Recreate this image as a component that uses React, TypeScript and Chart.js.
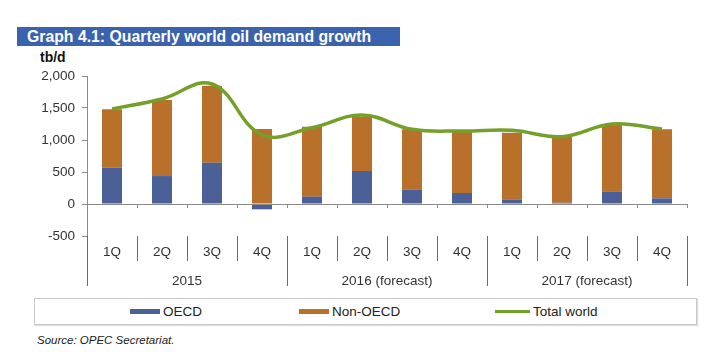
import React, { useEffect, useRef } from "react";
import { Chart, registerables } from "chart.js";

Chart.register(...registerables);

const quarters = ["1Q", "2Q", "3Q", "4Q", "1Q", "2Q", "3Q", "4Q", "1Q", "2Q", "3Q", "4Q"];
const years = ["2015", "2016 (forecast)", "2017 (forecast)"];
const oecd = [567, 437, 645, -83, 115, 516, 229, 172, 73, 20, 193, 89];
const nonOecd = [913, 1188, 1204, 1172, 1093, 849, 938, 958, 1042, 1032, 1041, 1078];
const totalWorld = [1484, 1640, 1875, 1080, 1190, 1390, 1167, 1141, 1151, 1052, 1250, 1172];
const yTicks = [-500, 0, 500, 1000, 1500, 2000];

const BLUE = "#4a6096";
const ORANGE = "#b8702a";
const GREEN = "#74a02a";
const FONT = "'Liberation Sans', Arial, sans-serif";

const decorPlugin = {
  id: "decor",
  afterDraw(chart: any) {
    const { ctx, chartArea } = chart;
    const x = chart.scales.x;
    const y = chart.scales.y;
    const zeroY = y.getPixelForValue(0);
    const n = quarters.length;
    const bounds: number[] = [];
    for (let i = 0; i <= n; i++) {
      if (i === 0) bounds.push(chartArea.left);
      else if (i === n) bounds.push(chartArea.right);
      else bounds.push((x.getPixelForValue(i - 1) + x.getPixelForValue(i)) / 2);
    }
    ctx.save();
    ctx.strokeStyle = "#8a8a8a";
    ctx.lineWidth = 1;
    ctx.beginPath();
    ctx.moveTo(chartArea.left, Math.round(zeroY) + 0.5);
    ctx.lineTo(chartArea.right, Math.round(zeroY) + 0.5);
    ctx.stroke();
    bounds.forEach((b) => {
      const bx = Math.round(b) + 0.5;
      ctx.beginPath();
      ctx.moveTo(bx, Math.round(zeroY));
      ctx.lineTo(bx, Math.round(zeroY) + 4);
      ctx.stroke();
    });
    ctx.strokeStyle = "#6a6a6a";
    const bottom = chartArea.bottom;
    bounds.forEach((b, i) => {
      const bx = Math.round(b) + 0.5;
      const isYear = i % 4 === 0;
      ctx.beginPath();
      ctx.moveTo(bx, bottom);
      ctx.lineTo(bx, bottom + (isYear ? 50 : 25));
      ctx.stroke();
    });
    ctx.restore();
  },
};

export default function App() {
  const ref = useRef<HTMLCanvasElement>(null);
  useEffect(() => {
    if (!ref.current) return;
    const chart = new Chart(ref.current, {
      type: "bar",
      data: {
        labels: quarters,
        datasets: [
          {
            type: "line",
            label: "Total world",
            data: totalWorld,
            borderColor: GREEN,
            backgroundColor: GREEN,
            borderWidth: 3.5,
            tension: 0.4,
            pointRadius: 0,
            stack: "line",
            order: 0,
          } as any,
          {
            label: "OECD",
            data: oecd,
            backgroundColor: BLUE,
            stack: "bars",
            order: 1,
            categoryPercentage: 1,
            barPercentage: 0.4,
          },
          {
            label: "Non-OECD",
            data: nonOecd,
            backgroundColor: ORANGE,
            stack: "bars",
            order: 1,
            categoryPercentage: 1,
            barPercentage: 0.4,
          },
        ],
      },
      options: {
        animation: false,
        responsive: false,
        maintainAspectRatio: false,
        layout: { padding: { top: 16, right: 23, left: 0, bottom: 8 } },
        plugins: { legend: { display: false }, tooltip: { enabled: false } },
        scales: {
          x: {
            stacked: true,
            offset: true,
            grid: { display: false },
            border: { display: false },
            ticks: { color: "#333", font: { family: FONT, size: 13.5 }, padding: 0, maxRotation: 0 },
            afterFit: (s: any) => { s.height = 26; },
          },
          x2: {
            type: "category",
            labels: years,
            position: "bottom",
            offset: true,
            grid: { display: false },
            border: { display: false },
            ticks: { color: "#333", font: { family: FONT, size: 13.5 }, padding: 3, maxRotation: 0 },
            afterFit: (s: any) => { s.height = 26; },
          },
          y: {
            stacked: true,
            min: -500,
            max: 2000,
            afterBuildTicks: (s: any) => { s.ticks = yTicks.map((v) => ({ value: v })); },
            grid: { drawOnChartArea: false, tickLength: 5, color: "#8a8a8a" },
            border: { display: true, color: "#8a8a8a" },
            ticks: {
              color: "#333",
              font: { family: FONT, size: 13.5 },
              padding: 7,
              callback: (v: any) => Number(v).toLocaleString("en-US"),
            },
            afterFit: (s: any) => { s.width = 87; },
          },
        },
      } as any,
      plugins: [decorPlugin],
    });
    return () => chart.destroy();
  }, []);

  const legendItems = [
    { label: "OECD", color: BLUE, left: 130, h: 5 },
    { label: "Non-OECD", color: ORANGE, left: 299, h: 5 },
    { label: "Total world", color: GREEN, left: 495, h: 3 },
  ];

  return (
    <div style={{ position: "absolute", left: 0, top: 0, width: 710, height: 359, background: "#fff", fontFamily: FONT, overflow: "hidden" }}>
      <div style={{ position: "absolute", left: 17, top: 27, width: 383, height: 19, background: "#3b62ad", color: "#fff", fontWeight: "bold", fontSize: 15.8, lineHeight: "19px", paddingLeft: 10, boxSizing: "border-box", whiteSpace: "nowrap" }}>
        Graph 4.1: Quarterly world oil demand growth
      </div>
      <div style={{ position: "absolute", left: 40, top: 49, fontWeight: "bold", fontSize: 14, color: "#111" }}>tb/d</div>
      <canvas ref={ref} width={710} height={236} style={{ position: "absolute", left: 0, top: 60, width: 710, height: 236 }} />
      <div style={{ position: "absolute", left: 34, top: 298, width: 663, height: 27, border: "1px solid #c8c8c8", boxSizing: "border-box", boxShadow: "1px 1px 1px #ddd" }}>
        {legendItems.map((it) => (
          <div key={it.label} style={{ position: "absolute", left: it.left - 35, top: 0, height: 25, display: "flex", alignItems: "center", fontSize: 13.5, color: "#222" }}>
            <span style={{ display: "inline-block", width: it.label === "Total world" ? 35 : 30, height: it.h, background: it.color, marginRight: 3 }} />
            {it.label}
          </div>
        ))}
      </div>
      <div style={{ position: "absolute", left: 37, top: 334, fontStyle: "italic", fontSize: 11.5, color: "#222" }}>Source: OPEC Secretariat.</div>
    </div>
  );
}
